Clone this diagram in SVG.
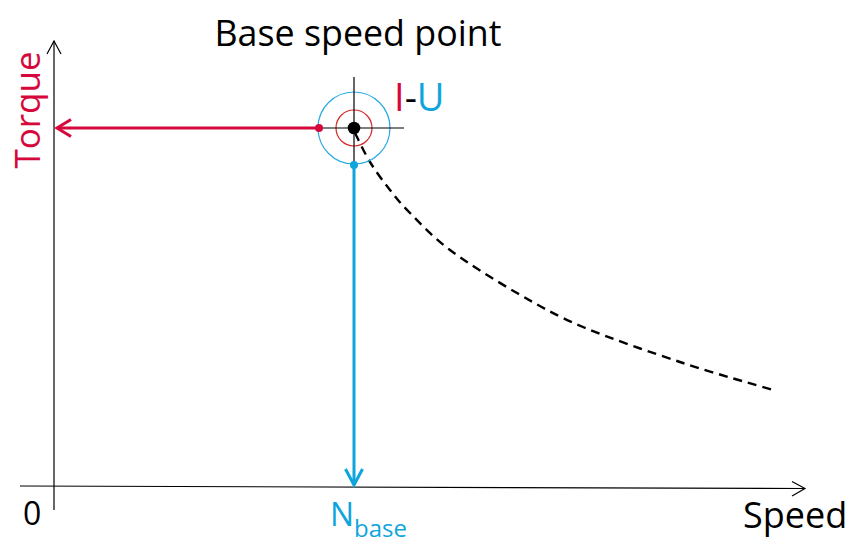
<svg xmlns="http://www.w3.org/2000/svg" width="862" height="552" viewBox="0 0 862 552">
<style>
.t{font-family:"Open Sans","Noto Sans","Liberation Sans",sans-serif}
.ax{stroke:#000;stroke-width:1.2;fill:none}
.red{stroke:#d6083b;stroke-width:3;fill:none}
.blue{stroke:#0ea5dd;stroke-width:3;fill:none}
</style>
<rect width="862" height="552" fill="#fff"/>
<g id="axes">
<line class="ax" x1="54" y1="41" x2="54" y2="510"/>
<polyline class="ax" points="47,54 54,41 61,54"/>
<line class="ax" x1="20" y1="486" x2="805" y2="488.5"/>
<polyline class="ax" points="792,481.5 805,488.5 792,496"/>
</g>
<g id="labels">
<text class="t" x="358" y="46" font-size="35.8" text-anchor="middle" fill="#000">Base speed point</text>
<text class="t" transform="translate(40,110) rotate(-90)" font-size="35" text-anchor="middle" fill="#d6083b">Torque</text>
<text class="t" x="23" y="525" font-size="32" fill="#000">0</text>
<text class="t" x="330" y="526" font-size="32" fill="#0ea5dd">N<tspan font-size="24" dy="11">base</tspan></text>
<text class="t" x="743" y="528" font-size="36" fill="#000">Speed</text>
<text class="t" x="394" y="111" font-size="38"><tspan fill="#d6083b">I</tspan><tspan fill="#000">-</tspan><tspan fill="#0ea5dd">U</tspan></text>
</g>
<g id="connectors">
<line class="red" x1="319" y1="128" x2="57" y2="128"/>
<polyline class="red" points="71,119.5 57,128 71,136.5"/>
<line class="blue" x1="354" y1="165" x2="354" y2="485"/>
<polyline class="blue" points="345.5,469 354,485 362.5,469"/>
<path d="M355,133 C357.5,137.8 364.2,152.5 370,162 C375.8,171.5 383.3,181.5 390,190 C396.7,198.5 400,203 410,213 C420,223 432.2,236.7 450,250 C467.8,263.3 494.8,280.2 517,293 C539.2,305.8 555.3,315.3 583,327 C610.7,338.7 651.3,352.5 683,363 C714.7,373.5 758,385.5 773,390" fill="none" stroke="#000" stroke-width="2.4" stroke-dasharray="9,6"/>
</g>
<g id="base-point">
<circle cx="354" cy="128" r="36" fill="none" stroke="#29abe2" stroke-width="1.2"/>
<circle cx="354" cy="128" r="18" fill="none" stroke="#d42a2a" stroke-width="1.2"/>
<line x1="319" y1="128" x2="404" y2="128" stroke="#000" stroke-width="1.2"/>
<line x1="354" y1="77" x2="354" y2="165" stroke="#000" stroke-width="1.2"/>
<circle cx="354" cy="128" r="6.3" fill="#000"/>
<circle cx="319" cy="128" r="4" fill="#d6083b"/>
<circle cx="354" cy="165" r="4" fill="#0ea5dd"/>
</g>
</svg>
